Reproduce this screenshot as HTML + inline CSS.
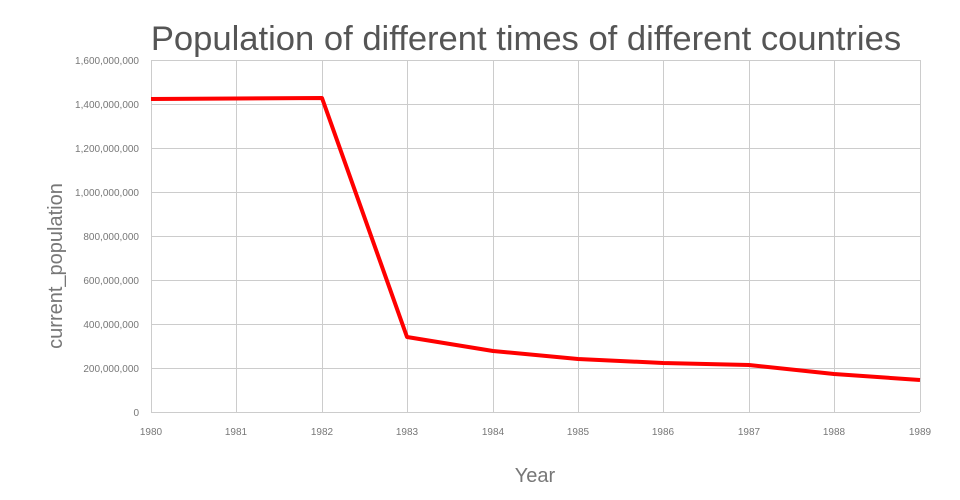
<!DOCTYPE html>
<html><head><style>body{margin:0;background:#fff}svg{display:block}</style></head><body>
<svg width="960" height="500" xmlns="http://www.w3.org/2000/svg" font-family="Liberation Sans, sans-serif">
<g stroke="#ccc" stroke-width="1">
<line x1="151" y1="60.5" x2="920" y2="60.5"/><line x1="151" y1="104.5" x2="920" y2="104.5"/><line x1="151" y1="148.5" x2="920" y2="148.5"/><line x1="151" y1="192.5" x2="920" y2="192.5"/><line x1="151" y1="236.5" x2="920" y2="236.5"/><line x1="151" y1="280.5" x2="920" y2="280.5"/><line x1="151" y1="324.5" x2="920" y2="324.5"/><line x1="151" y1="368.5" x2="920" y2="368.5"/><line x1="151" y1="412.5" x2="920" y2="412.5"/>
<line x1="151.5" y1="60" x2="151.5" y2="412"/><line x1="236.5" y1="60" x2="236.5" y2="412"/><line x1="322.5" y1="60" x2="322.5" y2="412"/><line x1="407.5" y1="60" x2="407.5" y2="412"/><line x1="493.5" y1="60" x2="493.5" y2="412"/><line x1="578.5" y1="60" x2="578.5" y2="412"/><line x1="663.5" y1="60" x2="663.5" y2="412"/><line x1="749.5" y1="60" x2="749.5" y2="412"/><line x1="834.5" y1="60" x2="834.5" y2="412"/><line x1="920.5" y1="60" x2="920.5" y2="412"/>
</g>
<g fill="#777" font-size="10" text-anchor="end">
<text x="139" y="64">1,600,000,000</text><text x="139" y="108">1,400,000,000</text><text x="139" y="152">1,200,000,000</text><text x="139" y="196">1,000,000,000</text><text x="139" y="240">800,000,000</text><text x="139" y="284">600,000,000</text><text x="139" y="328">400,000,000</text><text x="139" y="372">200,000,000</text><text x="139" y="416">0</text>
</g>
<g fill="#777" font-size="10" text-anchor="middle">
<text x="151" y="435">1980</text><text x="236" y="435">1981</text><text x="322" y="435">1982</text><text x="407" y="435">1983</text><text x="493" y="435">1984</text><text x="578" y="435">1985</text><text x="663" y="435">1986</text><text x="749" y="435">1987</text><text x="834" y="435">1988</text><text x="920" y="435">1989</text>
</g>
<polyline fill="none" stroke="#f00" stroke-width="4" stroke-linejoin="round" points="151,99 236,98.5 322,98 407,337 493,351 578,359 663,363 749,365 834,374 920,380"/>
<text x="526" y="50" font-size="34.6" fill="#555" text-anchor="middle">Population of different times of different countries</text>
<text x="535" y="482" font-size="20" fill="#777" text-anchor="middle">Year</text>
<text transform="translate(62,266) rotate(-90)" font-size="20" fill="#777" text-anchor="middle">current_population</text>
</svg>
</body></html>
